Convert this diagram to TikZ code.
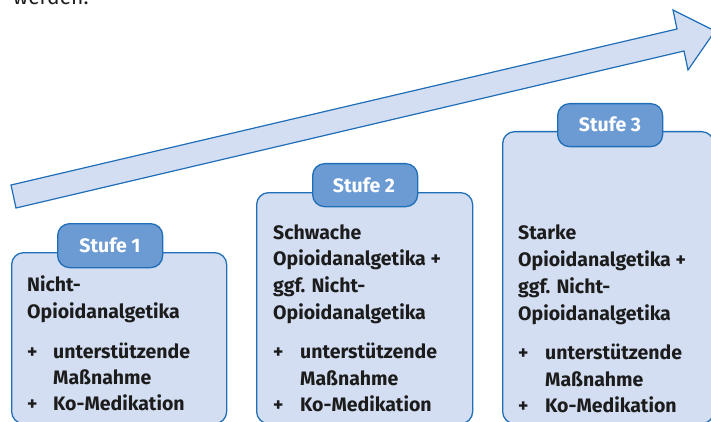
\documentclass[tikz,border=0pt]{standalone}
\usepackage{fontspec}
\setmainfont{Fira Sans}
\definecolor{lb}{HTML}{D3DEF2}
\definecolor{bl}{HTML}{1F6EB7}
\definecolor{tb}{HTML}{6C9BD4}
\definecolor{tx}{HTML}{1C1C1C}
\begin{document}
\begin{tikzpicture}[x=1pt,y=-1pt,
  boxshape/.style={draw=bl,fill=lb,line width=1.3pt,rounded corners=12pt,anchor=north west,inner sep=0pt},
  tabshape/.style={draw=bl,fill=tb,line width=1.3pt,rounded corners=12pt,anchor=north west,inner sep=0pt},
  tabtext/.style={text=white,font=\fontsize{19.5}{24}\selectfont\bfseries,anchor=base,inner sep=0pt},
  line/.style={text=tx,font=\fontsize{19.5}{27}\selectfont\bfseries,anchor=base west,inner sep=0pt}]
\useasboundingbox (0,0) rectangle (711,422);
% cropped text from page above
\node[anchor=base west,inner sep=0pt,text=tx,font=\fontsize{21}{25}\selectfont] (werden) at (13,5) {werden.};
% arrow
\draw[draw=bl,fill=lb,line width=1.2pt,line join=miter] (11,185) coordinate (at1) -- (677,29) coordinate (aj1) -- (673,10) coordinate (ab1) -- (715,31) coordinate (tip) -- (688,70) coordinate (ab2) -- (684,51) coordinate (aj2) -- (16,208) coordinate (at2) -- cycle;
% boxes
\node[boxshape,minimum width=215pt,minimum height=171pt] (b1) at (11,252) {};
\node[boxshape,minimum width=216pt,minimum height=231pt] (b2) at (256,192) {};
\node[boxshape,minimum width=211pt,minimum height=292pt] (b3) at (502,131) {};
% tabs
\node[tabshape,minimum width=105pt,minimum height=44pt] (t1) at (57,223) {};
\node[tabshape,minimum width=105pt,minimum height=43pt] (t2) at (312,163) {};
\node[tabshape,minimum width=105pt,minimum height=43pt] (t3) at (557,103) {};
\node[tabtext] (t1t) at (110,252) {Stufe 1};
\node[tabtext] (t2t) at (364,192) {Stufe 2};
\node[tabtext] (t3t) at (610,132) {Stufe 3};
% box 1 text
\node[line] (a1) at (27,291) {Nicht-};
\node[line] (a2) at (27,318) {Opioidanalgetika};
\node[line] (a3p) at (27,358) {+};
\node[line] (a3) at (53,358) {unterstützende};
\node[line] (a4) at (53,384) {Maßnahme};
\node[line] (a5p) at (27,410) {+};
\node[line] (a5) at (53,410) {Ko-Medikation};
% box 2 text
\node[line] (c1) at (273,239) {Schwache};
\node[line] (c2) at (273,265) {Opioidanalgetika +};
\node[line] (c3) at (273,292) {ggf. Nicht-};
\node[line] (c4) at (273,319) {Opioidanalgetika};
\node[line] (c5p) at (273,358) {+};
\node[line] (c5) at (300,358) {unterstützende};
\node[line] (c6) at (300,385) {Maßnahme};
\node[line] (c7p) at (273,411) {+};
\node[line] (c7) at (300,411) {Ko-Medikation};
% box 3 text
\node[line] (d1) at (518,239) {Starke};
\node[line] (d2) at (518,266) {Opioidanalgetika +};
\node[line] (d3) at (518,293) {ggf. Nicht-};
\node[line] (d4) at (518,320) {Opioidanalgetika};
\node[line] (d5p) at (518,359) {+};
\node[line] (d5) at (545,359) {unterstützende};
\node[line] (d6) at (545,386) {Maßnahme};
\node[line] (d7p) at (518,412) {+};
\node[line] (d7) at (545,412) {Ko-Medikation};
\end{tikzpicture}
\end{document}
